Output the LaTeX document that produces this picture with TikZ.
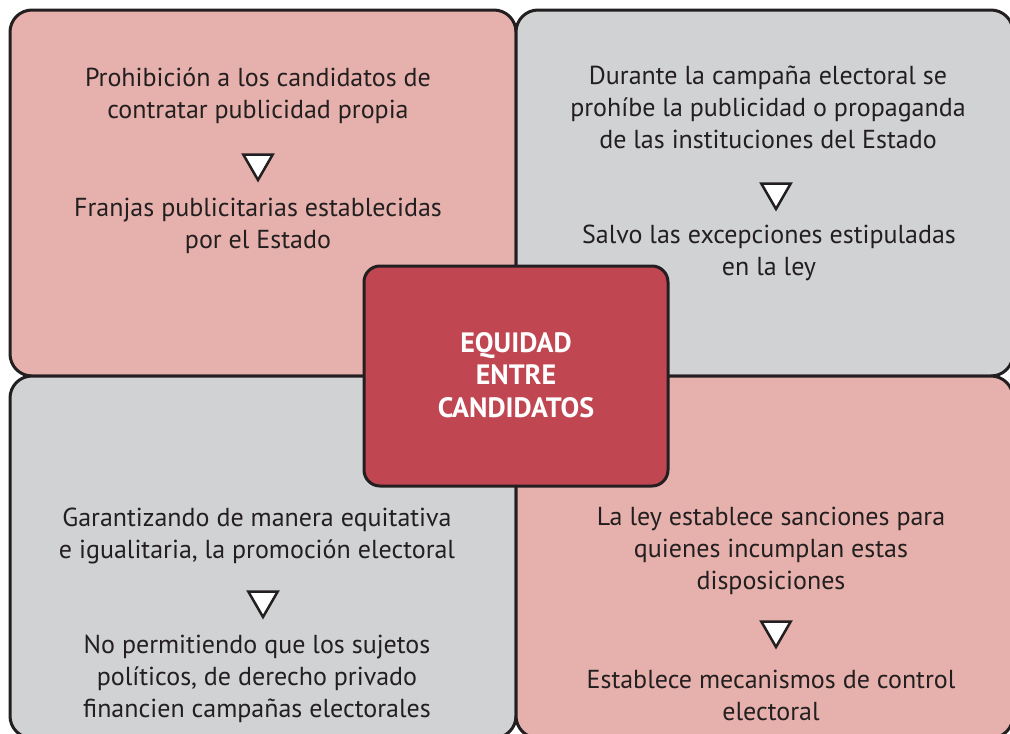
\documentclass[tikz,border=0pt]{standalone}
\usepackage{fontspec}
\setmainfont{PT Sans}
\usetikzlibrary{shapes.geometric}
\definecolor{pinkbox}{HTML}{E6B1AC}
\definecolor{graybox}{HTML}{D1D2D4}
\definecolor{redbox}{HTML}{C04651}
\definecolor{ink}{HTML}{231F20}
\tikzset{
  panel/.style={draw=ink, line width=3pt, rounded corners=22pt},
  txt/.style={text=ink, align=center, inner sep=0pt, font=\fontsize{26}{32}\selectfont},
  tri/.style={regular polygon, regular polygon sides=3, shape border rotate=180,
    draw=ink, fill=white, line width=2.5pt, inner sep=0pt, minimum size=34pt, miter limit=10},
  core/.style={draw=ink, fill=redbox, line width=3pt, rounded corners=16pt},
  coretxt/.style={text=white, align=center, inner sep=0pt, font=\fontsize{28}{32.5}\selectfont\bfseries}
}
\begin{document}
\begin{tikzpicture}[x=1pt,y=-1pt]
\useasboundingbox (0,0) rectangle (1010,734);
\fill[white] (0,0) rectangle (1010,734);
\begin{scope}
\clip (0,0) rectangle (1010,734);
\path[panel, fill=pinkbox] (10,10) rectangle (516,376);
\path[panel, fill=graybox] (516,10) rectangle (1013,376);
\path[panel, fill=graybox] (10,376) rectangle (516,738);
\path[panel, fill=pinkbox] (516,376) rectangle (1013,738);
\end{scope}
% top-left
\node[txt] (tl1) at (258,96) {Prohibición a los candidatos de\\contratar publicidad propia};
\node[tri] (tlt) at (258,163) {};
\node[txt] (tl2) at (258,226) {Franjas publicitarias establecidas\\por el Estado};
% top-right
\node[txt] (tr1) at (768,107) {Durante la campaña electoral se\\prohíbe la publicidad o propaganda\\de las instituciones del Estado};
\node[tri] (trt) at (776,192) {};
\node[txt] (tr2) at (769,253) {Salvo las excepciones estipuladas\\en la ley};
% bottom-left
\node[txt] (bl1) at (257,536) {Garantizando de manera equitativa\\e igualitaria, la promoción electoral};
\node[tri] (blt) at (263,600) {};
\node[txt] (bl2) at (257,679) {No permitiendo que los sujetos\\políticos, de derecho privado\\financien campañas electorales};
% bottom-right
\node[txt] (br1) at (771,551) {La ley establece sanciones para\\quienes incumplan estas\\disposiciones};
\node[tri] (brt) at (776,630) {};
\node[txt] (br2) at (771,695) {Establece mecanismos de control\\electoral};
% center
\path[core] (364,266) rectangle (668,486);
\node[coretxt] (c) at (516,375) {EQUIDAD\\ENTRE\\CANDIDATOS};
\end{tikzpicture}
\end{document}
